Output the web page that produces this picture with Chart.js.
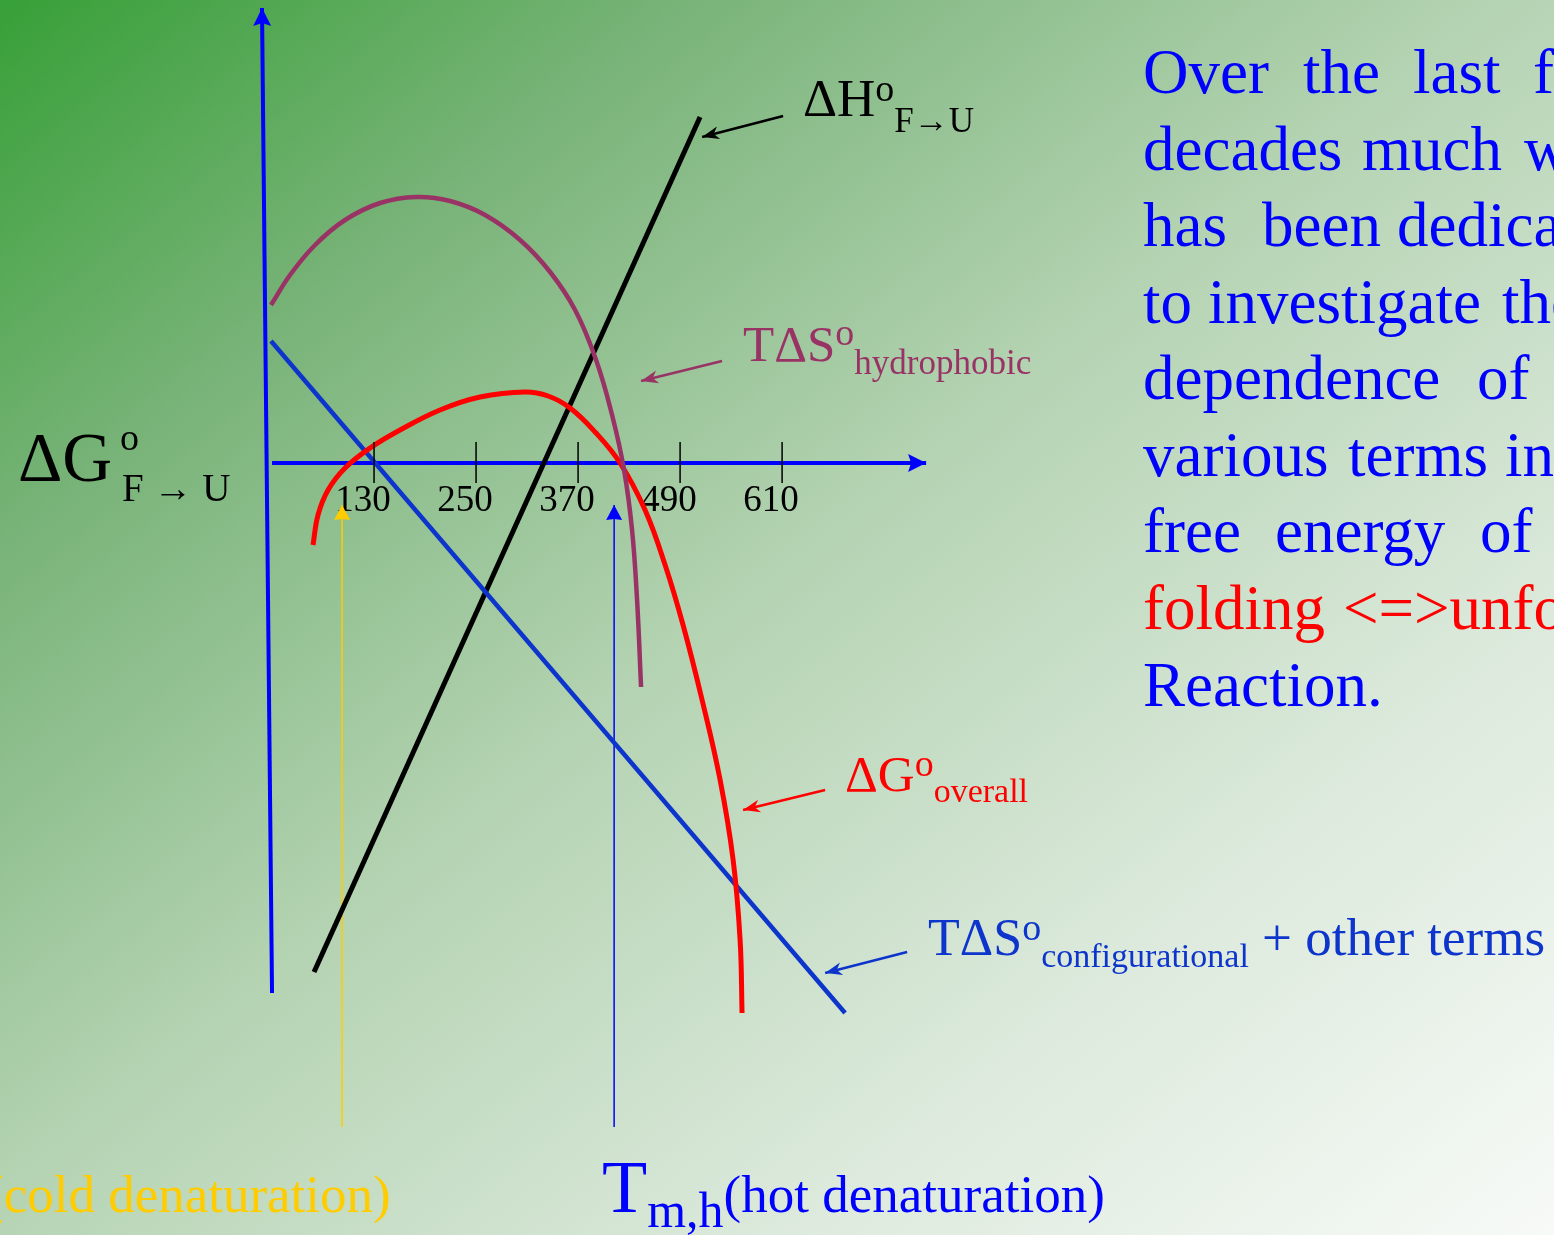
<!DOCTYPE html>
<html>
<head>
<meta charset="utf-8">
<script src="https://cdn.jsdelivr.net/npm/chart.js"></script>
<style>
  html, body { margin: 0; padding: 0; }
  body {
    width: 1554px; height: 1235px; overflow: hidden; position: relative;
    background: linear-gradient(to bottom right, #37a037 0%, #78b378 22%, #b4d3b2 48%, #dbe9db 74%, #f7faf7 100%);
    font-family: "Liberation Serif", "Times New Roman", serif;
  }
  #chart { position: absolute; left: 0; top: 0; }
  .t { position: absolute; white-space: pre; line-height: 1; }
  .t span { position: relative; }
</style>
</head>
<body>
<canvas id="chart" width="1554" height="1235"></canvas>
<script>
// temperature ticks on the horizontal axis
const tempTicks = [130, 250, 370, 490, 610];

// dH(F->U), straight line
const dHx = [59.4, 513.5];
const dHy = [-50.9, 34.6];

// T dS configurational + other terms, straight line
const tsConfX = [8.8, 684.1];
const tsConfY = [12.2, -55.0];

// T dS hydrophobic
const tsHydX = [8.8, 31.2, 60.6, 95.9, 137.1, 179.4, 219.4, 260.6, 301.8, 337.1, 366.5, 391.2, 410, 424.1, 433.5, 439.4, 444.1];
const tsHydY = [15.8, 18.8, 21.8, 24.3, 26, 26.6, 26.2, 24.8, 22.3, 19.1, 15.3, 10.3, 4.8, -0.7, -6.7, -13.7, -22.4];

// dG overall
const dGx = [58.2, 64.1, 75.9, 95.9, 125.3, 160.6, 207.6, 254.7, 307.6, 334.7, 360.6, 390, 419.4, 448.8, 472.4, 493.5, 515.9, 537.1, 552.4, 560.6, 562.9];
const dGy = [-8.2, -5.2, -2.7, -0.5, 1.5, 3.3, 5.3, 6.6, 7.1, 6.7, 5.5, 3.1, 0, -4.7, -10.2, -16.2, -23.7, -31.7, -39.7, -47.7, -55];

// cold / hot denaturation temperatures and their marker span
const tmCold = 92.4;
const tmHot = 412.4;
const markerY = [-66.4, -4.2];

// axis lines
const yAxisX = [10, -1.8];
const yAxisY = [-53, 45.5];
const xAxisX = [10, 779.4];
const xAxisY = [0, 0];

// label pointers (tail -> head)
const ptrH = { x: [611.2, 515.9], y: [34.7, 32.6] };
const ptrHyd = { x: [539.4, 444.1], y: [10.2, 8.2] };
const ptrG = { x: [660.6, 564.1], y: [-32.7, -34.7] };
const ptrConf = { x: [757.1, 660.6], y: [-48.9, -51.0] };

const pts = (xs, ys) => xs.map((x, i) => ({ x: x, y: ys[i] }));

function line(xs, ys, color, width, order, extra) {
  return Object.assign({
    data: pts(xs, ys),
    borderColor: color,
    backgroundColor: color,
    borderWidth: width,
    borderCapStyle: 'butt',
    pointRadius: 0,
    tension: 0,
    fill: false,
    order: order
  }, extra || {});
}

const AXIS = '#0000ff';
const CONF = '#0d35cc';
const HYD = '#993366';
const RED = '#ff0000';
const smooth = { tension: 0.4 };

// arrow heads at the last point of a dataset, plus the tick marks on the T axis
const arrowHeads = {
  id: 'arrowHeads',
  afterDatasetsDraw(chart) {
    const ctx = chart.ctx;
    const xs = chart.scales.x, y0 = chart.scales.y.getPixelForValue(0);
    ctx.save();
    ctx.strokeStyle = '#000';
    ctx.lineWidth = 1.5;
    ctx.beginPath();
    tempTicks.forEach(t => {
      const px = xs.getPixelForValue(t);
      ctx.moveTo(px, y0 - 21);
      ctx.lineTo(px, y0 + 20);
    });
    ctx.stroke();
    ctx.restore();

    chart.data.datasets.forEach((ds, i) => {
      if (!ds.head) return;
      const p = chart.getDatasetMeta(i).data;
      const a = p[p.length - 2], b = p[p.length - 1];
      const ang = Math.atan2(b.y - a.y, b.x - a.x);
      const [len, half, notch] = ds.head;
      ctx.save();
      ctx.translate(b.x, b.y);
      ctx.rotate(ang);
      ctx.beginPath();
      ctx.moveTo(0, 0);
      ctx.lineTo(-len, -half);
      ctx.lineTo(-notch, 0);
      ctx.lineTo(-len, half);
      ctx.closePath();
      ctx.fillStyle = ds.borderColor;
      ctx.fill();
      ctx.restore();
    });
  }
};

new Chart(document.getElementById('chart'), {
  type: 'line',
  data: {
    datasets: [
      line(yAxisX, yAxisY, AXIS, 4, 9, { head: [18, 9, 15] }),
      line(xAxisX, xAxisY, AXIS, 4, 9, { head: [18, 9, 15] }),
      line([tmCold, tmCold], markerY, '#ffcc00', 1.5, 8, { head: [15, 8, 14] }),
      line([tmHot, tmHot], markerY, AXIS, 1.5, 8, { head: [15, 8, 14] }),
      line(dHx, dHy, '#000000', 5, 7),
      line(tsConfX, tsConfY, CONF, 4.5, 6),
      line(dGx, dGy, RED, 5, 5, smooth),
      line(tsHydX, tsHydY, HYD, 4.5, 4, smooth),
      line(ptrH.x, ptrH.y, '#000000', 2.5, 3, { head: [17, 6.5, 12] }),
      line(ptrHyd.x, ptrHyd.y, HYD, 2.5, 3, { head: [17, 6.5, 12] }),
      line(ptrG.x, ptrG.y, RED, 2.5, 3, { head: [17, 6.5, 12] }),
      line(ptrConf.x, ptrConf.y, CONF, 2.5, 3, { head: [17, 6.5, 12] })
    ]
  },
  options: {
    responsive: false,
    animation: false,
    devicePixelRatio: 1,
    layout: { padding: 0 },
    plugins: {
      legend: { display: false },
      tooltip: { enabled: false }
    },
    scales: {
      x: {
        type: 'linear',
        min: -310,
        max: 1518,
        position: { y: 0 },
        afterBuildTicks: scale => { scale.ticks = tempTicks.map(v => ({ value: v })); },
        grid: { display: false },
        border: { display: false },
        ticks: {
          autoSkip: false,
          maxRotation: 0,
          padding: 8,
          labelOffset: -11,
          color: '#000',
          font: { family: 'Liberation Serif', size: 37 }
        }
      },
      y: {
        type: 'linear',
        min: -77.2,
        max: 46.3,
        display: false
      }
    }
  },
  plugins: [arrowHeads]
});

// text: each part is [text, font size, vertical shift]
function addText(x, base, color, parts) {
  const div = document.createElement('div');
  div.className = 't';
  const main = parts[0][1];
  div.style.fontSize = main + 'px';
  div.style.color = color;
  div.style.left = x + 'px';
  div.style.top = (base - 0.8375 * main) + 'px';
  parts.forEach(([txt, size, dy]) => {
    const s = document.createElement('span');
    s.textContent = txt;
    s.style.fontSize = size + 'px';
    if (dy) s.style.top = dy + 'px';
    div.appendChild(s);
  });
  document.body.appendChild(div);
}

// curve labels
addText(803, 116, '#000', [['ΔH', 53], ['o', 38, -15], ['F→U', 35, 16]]);
addText(743, 362, HYD, [['TΔS', 51], ['o', 38, -16], ['hydrophobic', 35, 13]]);
addText(845, 792, RED, [['ΔG', 51], ['o', 38, -15], ['overall', 34, 11]]);
addText(928, 955, CONF, [['TΔS', 52], ['o', 38, -15], ['configurational', 34, 12], [' + other terms', 53]]);

// vertical axis label
addText(18, 482, '#000', [['ΔG', 69]]);
addText(120, 450, '#000', [['o', 38]]);
addText(122, 501, '#000', [['F → U', 39]]);

// denaturation temperatures
addText(-14, 1212, '#ffcc00', [['(cold denaturation)', 53]]);
addText(602, 1212, '#0000ff', [['T', 74], ['m,h', 50, 15], ['(hot denaturation)', 53]]);

// paragraph, word by word
const para = [
  [94, '#0000ff', [[1143, 'Over'], [1303, 'the'], [1413, 'last'], [1533, 'few']]],
  [170.5, '#0000ff', [[1143, 'decades'], [1362, 'much'], [1524, 'work']]],
  [247, '#0000ff', [[1143, 'has'], [1262, 'been'], [1397, 'dedicated']]],
  [323.5, '#0000ff', [[1143, 'to'], [1208, 'investigate'], [1502, 'the']]],
  [400, '#0000ff', [[1143, 'dependence'], [1477, 'of']]],
  [477, '#0000ff', [[1143, 'various'], [1348, 'terms'], [1505, 'in']]],
  [553, '#0000ff', [[1143, 'free'], [1275, 'energy'], [1480, 'of']]],
  [630, '#ff0000', [[1143, 'folding'], [1343, '<=>unfolding']]],
  [707, '#0000ff', [[1143, 'Reaction.']]]
];
para.forEach(([base, color, words]) => {
  words.forEach(([x, w]) => addText(x, base, color, [[w, 63]]));
});
</script>
</body>
</html>
